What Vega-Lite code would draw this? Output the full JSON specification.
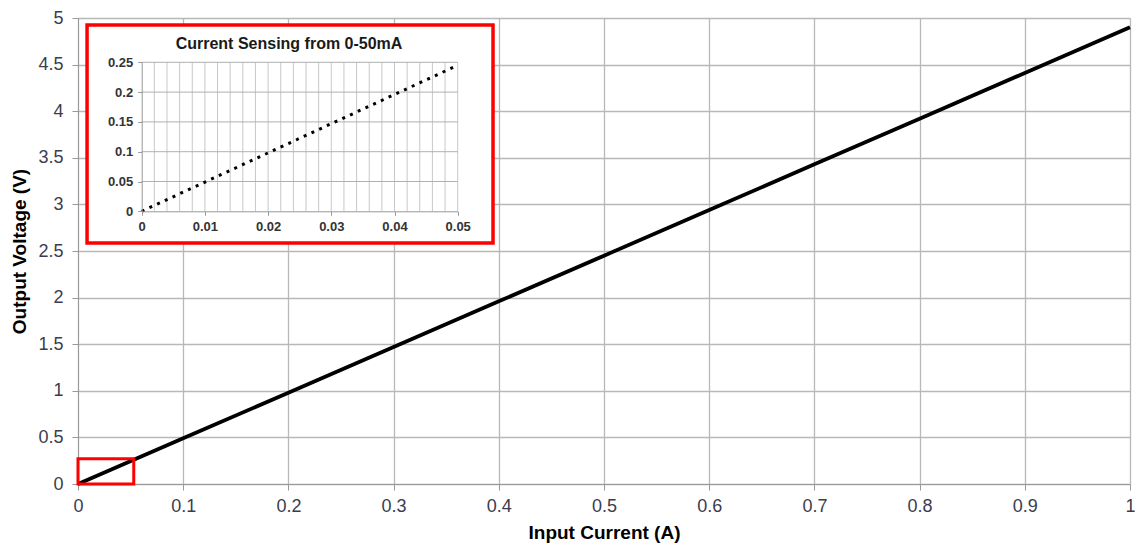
{
  "$schema": "https://vega.github.io/schema/vega-lite/v6.json",
  "width": 1052,
  "height": 466,
  "autosize": {"type": "none"},
  "padding": {"left": 78, "top": 18, "right": 5, "bottom": 61},
  "background": "white",
  "config": {"view": {"stroke": null}, "font": "Liberation Sans"},
  "resolve": {"scale": {"x": "independent", "y": "independent"}, "axis": {"x": "independent", "y": "independent"}},
  "layer": [
    {
      "layer": [
        {
          "data": {"values": [
            {"current": 0, "voltage": 0},
            {"current": 0.1, "voltage": 0.49},
            {"current": 0.2, "voltage": 0.98},
            {"current": 0.3, "voltage": 1.47},
            {"current": 0.4, "voltage": 1.96},
            {"current": 0.5, "voltage": 2.45},
            {"current": 0.6, "voltage": 2.94},
            {"current": 0.7, "voltage": 3.43},
            {"current": 0.8, "voltage": 3.92},
            {"current": 0.9, "voltage": 4.41},
            {"current": 1, "voltage": 4.9}
          ]},
          "mark": {"type": "line", "color": "black", "strokeWidth": 3.8},
          "encoding": {
            "x": {"field": "current", "type": "quantitative",
              "scale": {"domain": [0, 1], "nice": false},
              "axis": {"values": [0, 0.1, 0.2, 0.3, 0.4, 0.5, 0.6, 0.7, 0.8, 0.9, 1], "format": "~g",
                "title": "Input Current (A)", "titleFontSize": 19, "titleFontWeight": "bold", "titleColor": "black", "titlePadding": 8,
                "labelFontSize": 18, "labelColor": "#3c3c50", "labelPadding": 7, "tickSize": 6,
                "domainColor": "#999999", "tickColor": "#999999", "gridColor": "#b8b8b8", "gridWidth": 1.3, "labelFlush": false}},
            "y": {"field": "voltage", "type": "quantitative",
              "scale": {"domain": [0, 5], "nice": false},
              "axis": {"values": [0, 0.5, 1, 1.5, 2, 2.5, 3, 3.5, 4, 4.5, 5], "format": "~g",
                "title": "Output Voltage (V)", "titleFontSize": 19, "titleFontWeight": "bold", "titleColor": "black", "titlePadding": 8,
                "labelFontSize": 18, "labelColor": "#3c3c50", "labelPadding": 9, "tickSize": 6,
                "domainColor": "#999999", "tickColor": "#999999", "gridColor": "#b8b8b8", "gridWidth": 1.3, "labelFlush": false}}
          }
        },
        {
          "data": {"values": [{"x0": 0, "x1": 0.053, "y0": 0, "y1": 0.27}]},
          "mark": {"type": "rect", "fill": null, "stroke": "#ff0000", "strokeWidth": 3},
          "encoding": {
            "x": {"field": "x0", "type": "quantitative", "scale": {"domain": [0, 1], "nice": false}},
            "x2": {"field": "x1"},
            "y": {"field": "y0", "type": "quantitative", "scale": {"domain": [0, 5], "nice": false}},
            "y2": {"field": "y1"}
          }
        },
        {
          "data": {"values": [{"x0": 0.0086, "x1": 0.3945, "y0": 2.586, "y1": 4.925}]},
          "mark": {"type": "rect", "fill": "white", "stroke": "#ff0000", "strokeWidth": 3.5},
          "encoding": {
            "x": {"field": "x0", "type": "quantitative", "scale": {"domain": [0, 1], "nice": false}},
            "x2": {"field": "x1"},
            "y": {"field": "y0", "type": "quantitative", "scale": {"domain": [0, 5], "nice": false}},
            "y2": {"field": "y1"}
          }
        },
        {
          "data": {"values": [{"x0": 0.2006, "y0": 4.72, "label": "Current Sensing from 0-50mA"}]},
          "mark": {"type": "text", "fontSize": 16, "fontWeight": "bold", "color": "#1a1a1a", "baseline": "middle", "align": "center"},
          "encoding": {
            "x": {"field": "x0", "type": "quantitative", "scale": {"domain": [0, 1], "nice": false}},
            "y": {"field": "y0", "type": "quantitative", "scale": {"domain": [0, 5], "nice": false}},
            "text": {"field": "label"}
          }
        }
      ]
    },
    {
      "layer": [
        {
          "data": {"values": [
            {"x": 0.002}, {"x": 0.004}, {"x": 0.006}, {"x": 0.008}, {"x": 0.01},
            {"x": 0.012}, {"x": 0.014}, {"x": 0.016}, {"x": 0.018}, {"x": 0.02},
            {"x": 0.022}, {"x": 0.024}, {"x": 0.026}, {"x": 0.028}, {"x": 0.03},
            {"x": 0.032}, {"x": 0.034}, {"x": 0.036}, {"x": 0.038}, {"x": 0.04},
            {"x": 0.042}, {"x": 0.044}, {"x": 0.046}, {"x": 0.048}, {"x": 0.05}
          ]},
          "mark": {"type": "rule", "color": "#c8c8c8", "strokeWidth": 1},
          "encoding": {
            "x": {"field": "x", "type": "quantitative", "scale": {"domain": [0, 0.05], "range": [63.7, 379.7], "nice": false}},
            "y": {"datum": 0, "type": "quantitative", "scale": {"domain": [0, 0.25], "range": [193.3, 44.3], "nice": false}},
            "y2": {"datum": 0.25}
          }
        },
        {
          "data": {"values": [{"y": 0.05}, {"y": 0.1}, {"y": 0.15}, {"y": 0.2}, {"y": 0.25}]},
          "mark": {"type": "rule", "color": "#b0b0b0", "strokeWidth": 1},
          "encoding": {
            "x": {"datum": 0, "type": "quantitative", "scale": {"domain": [0, 0.05], "range": [63.7, 379.7], "nice": false}},
            "x2": {"datum": 0.05},
            "y": {"field": "y", "type": "quantitative", "scale": {"domain": [0, 0.25], "range": [193.3, 44.3], "nice": false}}
          }
        },
        {
          "data": {"values": [{"x": 0, "y": 0}, {"x": 0.05, "y": 0.245}]},
          "mark": {"type": "line", "color": "black", "strokeWidth": 3, "strokeDash": [3, 5.5]},
          "encoding": {
            "x": {"field": "x", "type": "quantitative",
              "scale": {"domain": [0, 0.05], "range": [63.7, 379.7], "nice": false},
              "axis": {"orient": "bottom", "offset": -272.7, "zindex": 1, "grid": false, "title": null,
                "values": [0, 0.01, 0.02, 0.03, 0.04, 0.05], "format": "~g",
                "labelFontSize": 13, "labelFontWeight": "bold", "labelColor": "#333333", "labelPadding": 5, "tickSize": 4,
                "domainColor": "#999999", "tickColor": "#999999", "labelFlush": false}},
            "y": {"field": "y", "type": "quantitative",
              "scale": {"domain": [0, 0.25], "range": [193.3, 44.3], "nice": false},
              "axis": {"orient": "left", "offset": -63.7, "zindex": 1, "grid": false, "title": null,
                "values": [0, 0.05, 0.1, 0.15, 0.2, 0.25], "format": "~g",
                "labelFontSize": 13, "labelFontWeight": "bold", "labelColor": "#333333", "labelPadding": 5, "tickSize": 4,
                "domainColor": "#999999", "tickColor": "#999999", "labelFlush": false}}
          }
        }
      ]
    }
  ]
}
